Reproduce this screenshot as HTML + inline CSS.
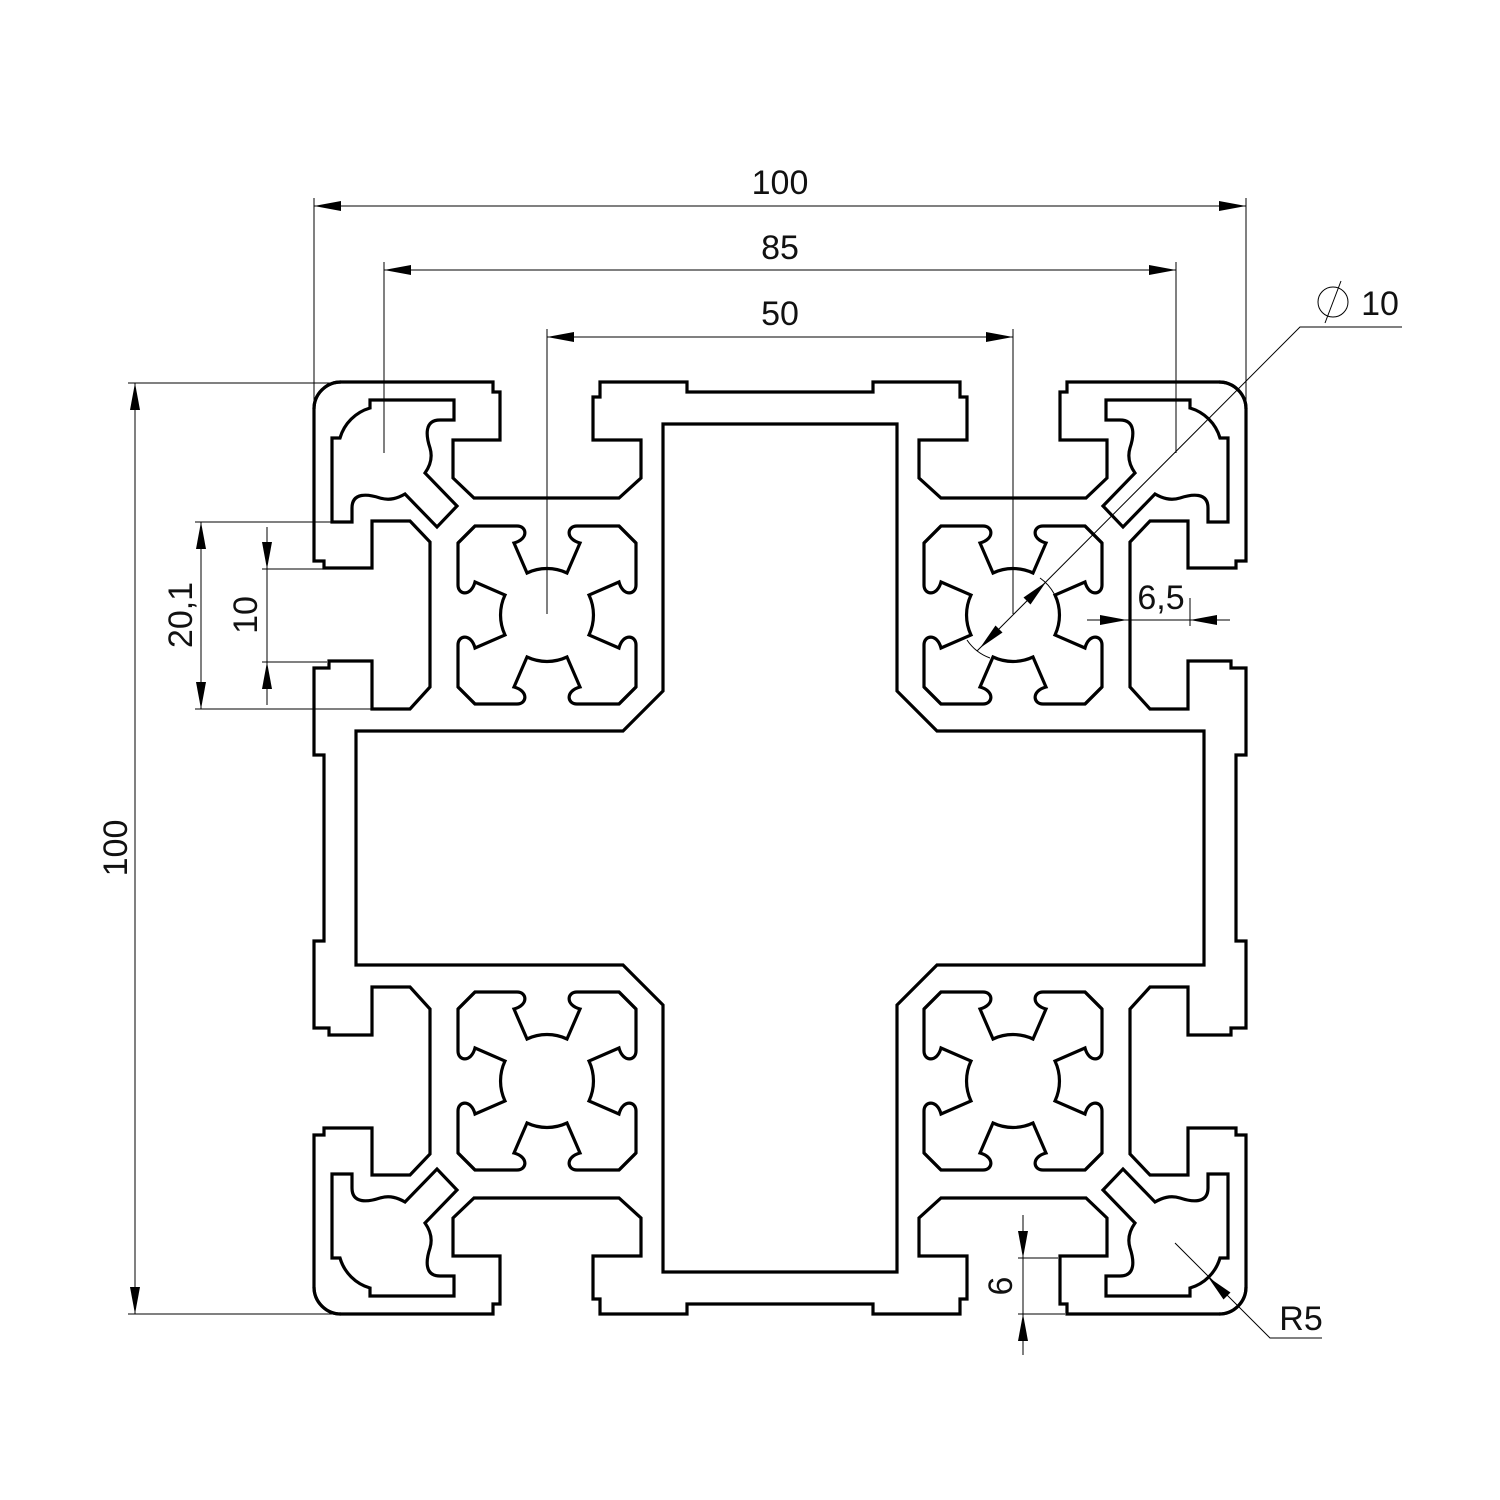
<!DOCTYPE html>
<html><head><meta charset="utf-8"><style>
html,body{margin:0;padding:0;background:#fff;}
svg{display:block;}
text{font-family:"Liberation Sans",sans-serif;font-size:34px;fill:#111;}
</style></head><body>
<svg width="1500" height="1500" viewBox="0 0 1500 1500" xmlns="http://www.w3.org/2000/svg">
<defs>
<path id="O" d="M -466,-439 A27 27 0 0 1 -439,-466 L -287,-466 L -287,-456 L -280,-456 L -280,-408 L -327,-408 L -327,-370 L -306,-350 L -161,-350 L -139,-370 L -139,-408 L -187,-408 L -187,-451 L -180,-451 L -180,-466 L -93,-466 L -93,-456 L 0,-456"/>
<path id="I" d="M 0,-424 L -117,-424 L -117,-157 L -157,-117 L -424,-117 L -424,0"/>
<path id="C" d="M -448,-326 L -448,-410 L -440,-410 A44 44 0 0 1 -410,-440 L -410,-448 L -326,-448 L -326,-428 L -340,-428 C -356,-428 -354,-412 -350,-400 C -347,-390 -350,-382 -355,-375 L -323,-342 L -343,-321 L -375,-354 C -382,-350 -390,-347 -400,-350 C -412,-354 -428,-356 -428,-340 L -428,-326 Z"/>
<path id="Sq" d="M -89,-72 L -72,-89 L -30,-89 C -20,-89 -18,-76 -33,-72 L -20,-42 A47 47 0 0 1 20,-42 L 33,-72 C 18,-76 20,-89 30,-89 L 72,-89 L 89,-72"/>
<g id="S">
<use href="#Sq"/><use href="#Sq" transform="rotate(90)"/><use href="#Sq" transform="rotate(180)"/><use href="#Sq" transform="rotate(270)"/>
</g>
<g id="Q">
<use href="#C"/>
<use href="#S" transform="translate(-233,-233)"/>
</g>
</defs>
<g transform="translate(780,848)" fill="none" stroke="#000" stroke-width="3.2" stroke-linejoin="miter">
<use href="#O" transform="matrix(1,0,0,1,0,0)"/>
<use href="#O" transform="matrix(-1,0,0,1,0,0)"/>
<use href="#O" transform="matrix(1,0,0,-1,0,0)"/>
<use href="#O" transform="matrix(-1,0,0,-1,0,0)"/>
<use href="#O" transform="matrix(0,1,1,0,0,0)"/>
<use href="#O" transform="matrix(0,-1,1,0,0,0)"/>
<use href="#O" transform="matrix(0,1,-1,0,0,0)"/>
<use href="#O" transform="matrix(0,-1,-1,0,0,0)"/>
<use href="#I" transform="matrix(1,0,0,1,0,0)"/>
<use href="#I" transform="matrix(-1,0,0,1,0,0)"/>
<use href="#I" transform="matrix(1,0,0,-1,0,0)"/>
<use href="#I" transform="matrix(-1,0,0,-1,0,0)"/>
<use href="#Q" transform="matrix(1,0,0,1,0,0)"/>
<use href="#Q" transform="matrix(-1,0,0,1,0,0)"/>
<use href="#Q" transform="matrix(1,0,0,-1,0,0)"/>
<use href="#Q" transform="matrix(-1,0,0,-1,0,0)"/>
</g>
<g stroke="#000" stroke-width="1" fill="none">
<!-- top dims -->
<line x1="314" y1="206" x2="1246" y2="206"/>
<line x1="314" y1="198" x2="314" y2="525"/>
<line x1="1246" y1="198" x2="1246" y2="405"/>
<line x1="384" y1="270" x2="1176" y2="270"/>
<line x1="384" y1="262" x2="384" y2="453"/>
<line x1="1176" y1="262" x2="1176" y2="453"/>
<line x1="547" y1="337" x2="1013" y2="337"/>
<line x1="547" y1="329" x2="547" y2="614"/>
<line x1="1013" y1="329" x2="1013" y2="614"/>
<!-- left dims -->
<line x1="135" y1="383" x2="135" y2="1314"/>
<line x1="128" y1="383" x2="335" y2="383"/>
<line x1="128" y1="1314" x2="335" y2="1314"/>
<line x1="201" y1="522" x2="201" y2="709"/>
<line x1="195" y1="522" x2="335" y2="522"/>
<line x1="195" y1="709" x2="372" y2="709"/>
<line x1="267" y1="527" x2="267" y2="705"/>
<line x1="262" y1="569" x2="327" y2="569"/>
<line x1="262" y1="662" x2="327" y2="662"/>
<!-- diameter -->
<polyline points="977,651 1300,327 1402,327"/>
<path d="M 1040,578 A47 47 0 0 1 1060,615"/>
<path d="M 967,640 A47 47 0 0 0 990,658"/>
<circle cx="1333" cy="302" r="15"/>
<line x1="1325" y1="323" x2="1341" y2="281"/>
<!-- 6,5 -->
<line x1="1087" y1="620" x2="1230" y2="620"/>
<line x1="1190" y1="598" x2="1190" y2="626"/>
<!-- 6 -->
<line x1="1023" y1="1215" x2="1023" y2="1355"/>
<line x1="1018" y1="1258" x2="1058" y2="1258"/>
<line x1="1018" y1="1314" x2="1065" y2="1314"/>
<!-- R5 -->
<polyline points="1175,1243 1270,1338 1322,1338"/>
</g>
<g fill="#000" stroke="none">
<polygon points="314,206 341,201 341,211"/>
<polygon points="1246,206 1219,201 1219,211"/>
<polygon points="384,270 411,265 411,275"/>
<polygon points="1176,270 1149,265 1149,275"/>
<polygon points="547,337 574,332 574,342"/>
<polygon points="1013,337 986,332 986,342"/>
<polygon points="135,383 130,410 140,410"/>
<polygon points="135,1314 130,1287 140,1287"/>
<polygon points="201,522 196,549 206,549"/>
<polygon points="201,709 196,682 206,682"/>
<polygon points="267,569 262,542 272,542"/>
<polygon points="267,662 262,689 272,689"/>
<polygon points="1127,620 1100,615 1100,625"/>
<polygon points="1190,620 1217,615 1217,625"/>
<polygon points="1023,1258 1018,1231 1028,1231"/>
<polygon points="1023,1314 1018,1341 1028,1341"/>
<polygon points="1046,582 1023.5,597.5 1030.5,604.5"/>
<polygon points="980,648 995.5,625.5 1002.5,632.5"/>
<polygon points="1208,1277 1223.5,1299.5 1230.5,1292.5"/>
</g>
<text x="780" y="194" text-anchor="middle">100</text>
<text x="780" y="259" text-anchor="middle">85</text>
<text x="780" y="325" text-anchor="middle">50</text>
<text x="1380" y="315" text-anchor="middle">10</text>
<text x="1161" y="609" text-anchor="middle">6,5</text>
<text x="1301" y="1330" text-anchor="middle">R5</text>
<text transform="translate(127,848) rotate(-90)" text-anchor="middle">100</text>
<text transform="translate(192,615) rotate(-90)" text-anchor="middle">20,1</text>
<text transform="translate(257,615) rotate(-90)" text-anchor="middle">10</text>
<text transform="translate(1012,1286) rotate(-90)" text-anchor="middle">6</text>
</svg>
</body></html>
